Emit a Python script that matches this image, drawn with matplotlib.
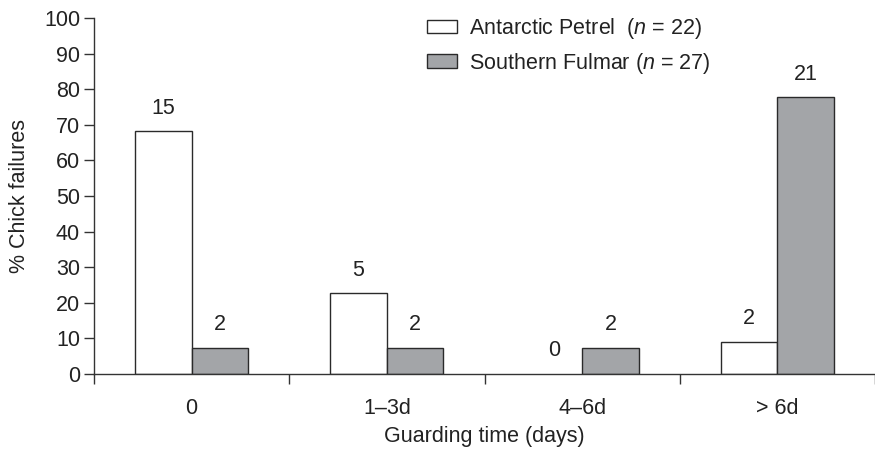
import matplotlib
matplotlib.use("Agg")
import matplotlib.pyplot as plt
import numpy as np

categories = ["0", "1\u20133d", "4\u20136d", "> 6d"]
petrel_pct = [68.2, 22.7, 0.0, 9.1]
fulmar_pct = [7.4, 7.4, 7.4, 77.8]
petrel_n = [15, 5, 0, 2]
fulmar_n = [2, 2, 2, 21]
yticks = [0, 10, 20, 30, 40, 50, 60, 70, 80, 90, 100]

plt.rcParams['font.family'] = ['Liberation Sans', 'DejaVu Sans']
plt.rcParams['mathtext.fontset'] = 'custom'
plt.rcParams['mathtext.it'] = 'Liberation Sans:italic'
plt.rcParams['mathtext.rm'] = 'Liberation Sans'

FS = 15.5
fig = plt.figure(figsize=(8.75, 4.49), dpi=100)
ax = fig.add_axes([94/875, 75/449, 1 - 94/875, 356/449])

x = np.arange(len(categories))
w = 0.29
edge = '#2a2a2a'
gray = '#a3a5a8'
b1 = ax.bar(x - w/2, petrel_pct, w, color='white', edgecolor=edge, linewidth=1.0,
            label=r"Antarctic Petrel  ($\mathit{n}$ = 22)")
b2 = ax.bar(x + w/2, fulmar_pct, w, color=gray, edgecolor=edge, linewidth=1.0,
            label=r"Southern Fulmar ($\mathit{n}$ = 27)")
for rect, v in zip(b1, petrel_pct):
    if v == 0:
        rect.set_linewidth(0)

for xi, v, n in zip(x - w/2, petrel_pct, petrel_n):
    ax.annotate(str(n), (xi, v), xytext=(0, 23), textcoords='offset pixels',
                ha='center', va='center', fontsize=FS, color='#222222')
for xi, v, n in zip(x + w/2, fulmar_pct, fulmar_n):
    ax.annotate(str(n), (xi, v), xytext=(0, 23), textcoords='offset pixels',
                ha='center', va='center', fontsize=FS, color='#222222')

ax.set_xlim(-0.5, len(categories) - 0.5)
ax.set_ylim(0, 100)
ax.set_yticks(yticks)
ax.set_yticklabels([str(t) for t in yticks], fontsize=FS, color='#222222')
ax.set_xticks(np.arange(len(categories) + 1) - 0.5)
ax.set_xticklabels([])
ax.set_xticks(x, minor=True)
ax.set_xticklabels(categories, minor=True, fontsize=FS, color='#222222')
ax.tick_params(axis='x', which='minor', length=0, pad=17)
ax.tick_params(axis='x', which='major', length=7, width=1, color='#333333', direction='out')
ax.tick_params(axis='y', length=7, width=1, color='#333333', direction='out', pad=3)

for s in ['top', 'right']:
    ax.spines[s].set_visible(False)
for s in ['left', 'bottom']:
    ax.spines[s].set_color('#333333')
    ax.spines[s].set_linewidth(1)

ax.set_xlabel("Guarding time (days)", fontsize=FS, color='#222222', labelpad=5)
ax.set_ylabel("% Chick failures", fontsize=FS, color='#222222', labelpad=10)

leg = ax.legend(loc='upper left', bbox_to_anchor=(412/875, 448/449), bbox_transform=fig.transFigure,
                frameon=False, fontsize=FS, handlelength=1.4, handleheight=0.6,
                handletextpad=0.55, labelspacing=0.45, borderaxespad=0.3)
for t in leg.get_texts():
    t.set_color('#222222')

fig.savefig("out.png", dpi=100)
